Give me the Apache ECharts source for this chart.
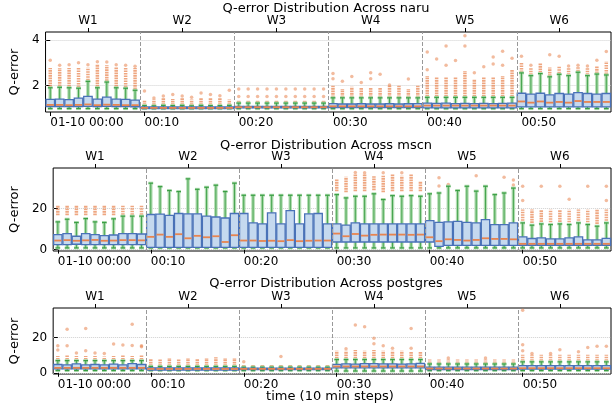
<!DOCTYPE html>
<html>
<head>
<meta charset="utf-8">
<script src="https://cdn.jsdelivr.net/npm/echarts@6/dist/echarts.min.js"></script>
<style>
html, body { margin: 0; padding: 0; background: #fff; }
#chart { width: 616px; height: 406px; }
</style>
</head>
<body>
<div id="chart"></div>
<script>
// axis ticks
const timeTicks = [0, 10, 20, 30, 40, 50]
const timeLabels = ['01-10 00:00', '00:10', '00:20', '00:30', '00:40', '00:50']
const workloadTicks = [4, 14, 24, 34, 44, 54]
const workloads = ['W1', 'W2', 'W3', 'W4', 'W5', 'W6']
const boundaries = [9.5, 19.5, 29.5, 39.5, 49.5]

// naru: [low whisker, q1, median, q3, high whisker] for each step
const naruBoxes = [
  [1.0, 1.09, 1.16, 1.40, 1.91], [1.0, 1.09, 1.16, 1.41, 1.93], [1.0, 1.09, 1.15, 1.39, 1.91], [1.0, 1.09, 1.16, 1.46, 1.89], [1.0, 1.10, 1.18, 1.53, 2.19],
  [1.0, 1.09, 1.15, 1.41, 1.91], [1.0, 1.10, 1.17, 1.50, 2.16], [1.0, 1.09, 1.16, 1.41, 1.91], [1.0, 1.09, 1.15, 1.40, 1.89], [1.0, 1.08, 1.15, 1.37, 1.80],
  [1.0, 1.0, 1.03, 1.07, 1.13], [1.0, 1.0, 1.03, 1.07, 1.12], [1.0, 1.0, 1.03, 1.07, 1.14], [1.0, 1.0, 1.03, 1.07, 1.13], [1.0, 1.0, 1.03, 1.07, 1.14],
  [1.0, 1.0, 1.03, 1.07, 1.12], [1.0, 1.0, 1.03, 1.07, 1.14], [1.0, 1.0, 1.03, 1.07, 1.13], [1.0, 1.0, 1.03, 1.07, 1.13], [1.0, 1.0, 1.03, 1.07, 1.14],
  [1.0, 1.03, 1.06, 1.10, 1.24], [1.0, 1.03, 1.06, 1.10, 1.24], [1.0, 1.03, 1.06, 1.10, 1.24], [1.0, 1.03, 1.06, 1.10, 1.24], [1.0, 1.03, 1.06, 1.10, 1.24],
  [1.0, 1.03, 1.06, 1.10, 1.24], [1.0, 1.03, 1.06, 1.10, 1.24], [1.0, 1.03, 1.06, 1.10, 1.24], [1.0, 1.03, 1.06, 1.10, 1.24], [1.0, 1.03, 1.06, 1.10, 1.24],
  [1.0, 1.04, 1.10, 1.22, 1.47], [1.0, 1.04, 1.10, 1.20, 1.47], [1.0, 1.04, 1.10, 1.20, 1.47], [1.0, 1.04, 1.10, 1.21, 1.47], [1.0, 1.04, 1.10, 1.20, 1.47],
  [1.0, 1.04, 1.10, 1.20, 1.47], [1.0, 1.04, 1.10, 1.21, 1.47], [1.0, 1.04, 1.10, 1.20, 1.47], [1.0, 1.04, 1.10, 1.21, 1.47], [1.0, 1.04, 1.10, 1.22, 1.47],
  [1.0, 1.03, 1.13, 1.24, 1.49], [1.0, 1.03, 1.13, 1.23, 1.49], [1.0, 1.03, 1.13, 1.24, 1.49], [1.0, 1.03, 1.13, 1.22, 1.49], [1.0, 1.03, 1.13, 1.23, 1.49],
  [1.0, 1.03, 1.13, 1.22, 1.49], [1.0, 1.03, 1.13, 1.23, 1.49], [1.0, 1.03, 1.13, 1.22, 1.49], [1.0, 1.03, 1.13, 1.23, 1.49], [1.0, 1.03, 1.13, 1.24, 1.49],
  [1.0, 1.07, 1.31, 1.67, 2.56], [1.0, 1.07, 1.26, 1.63, 2.44], [1.0, 1.07, 1.31, 1.67, 2.53], [1.0, 1.07, 1.26, 1.60, 2.39], [1.0, 1.07, 1.29, 1.66, 2.50],
  [1.0, 1.07, 1.26, 1.63, 2.44], [1.0, 1.07, 1.33, 1.70, 2.59], [1.0, 1.07, 1.29, 1.66, 2.44], [1.0, 1.07, 1.29, 1.63, 2.51], [1.0, 1.07, 1.29, 1.66, 2.47]
]
// dense outlier columns [from, to]
const naruFliers = [
  [1.96, 2.78], [1.98, 2.78], [1.96, 2.78], [1.94, 2.80], [2.24, 2.80], [1.96, 2.95], [2.21, 2.90], [1.96, 2.80], [1.94, 2.78], [1.85, 2.78],
  [1.16, 1.38], [1.16, 1.40], [1.16, 1.45], [1.16, 1.42], [1.16, 1.45], [1.16, 1.40], [1.16, 1.45], [1.16, 1.45], [1.16, 1.45], [1.16, 1.40],
  [1.27, 1.35], [1.27, 1.35], [1.27, 1.35], [1.27, 1.35], [1.27, 1.35], [1.27, 1.35], [1.27, 1.35], [1.27, 1.35], [1.27, 1.35], [1.27, 1.35],
  [1.50, 2.00], [1.50, 1.86], [1.50, 1.95], [1.50, 1.93], [1.50, 1.93], [1.50, 1.90], [1.50, 2.00], [1.50, 2.00], [1.50, 1.86], [1.50, 2.00],
  [1.52, 2.43], [1.52, 2.36], [1.52, 2.36], [1.52, 2.36], [1.52, 2.64], [1.52, 2.29], [1.52, 2.36], [1.52, 2.36], [1.52, 2.43], [1.52, 2.71],
  [2.60, 3.00], [2.48, 2.80], [2.57, 3.00], [2.43, 2.80], [2.54, 2.85], [2.48, 2.80], [2.63, 2.85], [2.48, 2.80], [2.55, 2.85], [2.51, 3.07]
]
// single outliers [step, value]
const naruOutliers = [
  [0, 3.11], [1, 2.89], [2, 2.92], [3, 3.0], [4, 2.92], [5, 3.05], [6, 3.04], [7, 2.92], [8, 2.90], [9, 2.85],
  [10, 1.77], [11, 1.46], [12, 1.55], [13, 1.62], [14, 1.55], [15, 1.50], [16, 1.68], [17, 1.62], [18, 1.56], [19, 1.80],
  [20, 1.53], [21, 1.53], [22, 1.53], [23, 1.53], [24, 1.53], [25, 1.53], [26, 1.53], [27, 1.53], [28, 1.53], [29, 1.53],
  [20, 1.86], [21, 1.86], [22, 1.86], [23, 1.86], [24, 1.86], [25, 1.86], [26, 1.86], [27, 1.86], [28, 1.86], [29, 1.86],
  [30, 2.53], [30, 2.30], [31, 2.19], [32, 2.40], [33, 2.14], [34, 2.57], [34, 2.30], [35, 2.50], [36, 2.03], [38, 2.29],
  [40, 3.47], [40, 2.70], [41, 3.17], [42, 3.74], [42, 2.90], [43, 3.10], [44, 4.19], [44, 3.74], [45, 2.57], [46, 2.83],
  [47, 3.26], [47, 2.95], [48, 3.51], [48, 2.90], [49, 3.20],
  [50, 3.29], [51, 2.89], [53, 3.36], [54, 3.29], [55, 2.86], [56, 2.89], [57, 2.86], [58, 3.11], [59, 3.50]
]

// mscn
const mscnBoxes = [
  [0.8, 2.4, 4.4, 7.3, 13.5], [0.8, 2.4, 4.6, 7.8, 14.8], [0.8, 2.6, 4.3, 6.5, 13.2], [0.8, 2.4, 4.5, 7.8, 15.1], [0.8, 2.4, 4.7, 7.3, 13.5],
  [0.8, 2.4, 4.3, 6.8, 13.2], [0.8, 2.4, 4.4, 7.1, 15.0], [0.8, 2.4, 4.6, 7.8, 16.3], [0.8, 2.4, 4.6, 7.8, 16.3], [0.8, 2.4, 4.5, 7.6, 16.3],
  [0.8, 1.1, 6.2, 17.1, 32.4], [0.8, 1.1, 7.3, 17.3, 30.7], [0.8, 1.1, 6.2, 16.7, 28.8], [0.8, 1.1, 7.5, 17.6, 28.3], [0.8, 1.1, 5.5, 17.4, 34.5],
  [0.8, 1.1, 6.7, 17.4, 29.4], [0.8, 1.1, 6.0, 16.3, 30.4], [0.8, 1.1, 6.5, 15.9, 31.4], [0.8, 1.1, 3.7, 15.4, 28.3], [0.8, 1.1, 7.0, 17.6, 32.4],
  [0.8, 1.1, 4.4, 17.6, 26.5], [0.8, 1.1, 4.4, 13.0, 26.5], [0.8, 1.1, 4.2, 12.5, 26.5], [0.8, 1.1, 4.3, 17.9, 26.5], [0.8, 1.1, 4.1, 12.5, 26.5],
  [0.8, 1.1, 4.6, 19.0, 26.5], [0.8, 1.1, 4.1, 12.5, 26.5], [0.8, 1.1, 4.3, 17.4, 26.5], [0.8, 1.1, 4.4, 17.6, 26.5], [0.8, 1.1, 4.4, 12.5, 26.5],
  [0.8, 3.7, 7.8, 12.5, 26.8], [0.8, 3.7, 6.5, 11.9, 25.2], [0.8, 3.7, 7.6, 13.0, 26.0], [0.8, 3.7, 6.8, 12.5, 26.0], [0.8, 3.7, 7.2, 12.5, 27.2],
  [0.8, 3.7, 7.3, 12.5, 24.4], [0.8, 3.7, 7.3, 12.5, 26.3], [0.8, 3.7, 7.3, 12.5, 26.0], [0.8, 3.7, 7.2, 12.5, 26.3], [0.8, 3.7, 7.3, 12.5, 26.0],
  [0.8, 3.7, 6.0, 14.1, 27.2], [0.8, 1.6, 4.1, 13.3, 27.6], [0.8, 2.0, 5.0, 13.5, 30.9], [0.8, 2.0, 4.7, 13.8, 28.8], [0.8, 2.0, 4.4, 13.3, 30.9],
  [0.8, 2.0, 4.7, 13.0, 28.5], [0.8, 2.0, 5.5, 14.6, 30.9], [0.8, 2.0, 5.2, 12.2, 26.8], [0.8, 2.0, 5.2, 12.2, 27.6], [0.8, 2.0, 5.0, 13.0, 30.0],
  [0.8, 2.1, 2.8, 6.2, 13.0], [0.8, 2.1, 2.8, 5.4, 11.9], [0.8, 2.1, 2.8, 5.7, 12.5], [0.8, 2.1, 2.8, 5.2, 12.2], [0.8, 2.1, 2.8, 5.2, 12.5],
  [0.8, 2.1, 2.8, 5.7, 12.2], [0.8, 2.1, 2.8, 6.2, 13.0], [0.8, 2.1, 2.8, 4.7, 12.2], [0.8, 2.1, 2.8, 4.7, 11.4], [0.8, 2.1, 2.8, 5.5, 13.0]
]
const mscnFliers = [
  [16.8, 21.8], [16.8, 21.8], [16.8, 21.8], [16.8, 21.8], [16.8, 21.8], [16.8, 21.8], [16.8, 21.8], [17.0, 21.8], [17.0, 21.8], [17.0, 21.8],
  null, null, null, null, null, null, null, null, null, null,
  null, null, null, null, null, null, null, null, null, null,
  [28.5, 34.5], [28.0, 35.5], [28.5, 36.6], [28.5, 37.0], [29.0, 35.8], [28.0, 36.0], [28.5, 36.8], [28.5, 36.0], [28.5, 36.8], [28.5, 33.5],
  null, null, null, null, null, null, null, null, null, null,
  [14.0, 19.5], [13.0, 19.5], [13.5, 19.5], [13.3, 19.5], [13.5, 19.5], [13.3, 19.5], [14.0, 19.5], [13.3, 19.5], [12.5, 19.5], [14.0, 19.5]
]
const mscnOutliers = [
  [32, 37.6], [33, 37.5], [35, 37.5], [37, 37.5],
  [41, 35.0], [41, 31.0], [42, 31.7], [45, 36.0], [48, 35.3], [49, 34.0], [49, 31.5],
  [50, 30.9], [50, 24.0], [52, 30.9], [54, 30.9], [55, 24.5], [57, 30.9], [59, 30.9], [59, 24.0]
]

// postgres
const postgresBoxes = [
  [1.3, 2.2, 2.8, 4.7, 6.9], [1.3, 2.2, 2.8, 4.5, 6.9], [1.3, 2.2, 2.8, 5.0, 6.9], [1.3, 2.2, 2.8, 4.5, 6.9], [1.3, 2.2, 2.8, 4.7, 6.9],
  [1.3, 2.2, 2.8, 4.5, 6.9], [1.3, 2.2, 2.8, 4.9, 6.9], [1.3, 2.2, 2.8, 4.5, 6.9], [1.3, 2.2, 2.8, 5.2, 6.9], [1.3, 2.2, 2.8, 4.7, 6.9],
  [1.3, 1.5, 2.2, 2.8, 3.6], [1.3, 1.5, 2.2, 2.8, 3.6], [1.3, 1.5, 2.2, 2.8, 3.6], [1.3, 1.5, 2.2, 2.8, 3.6], [1.3, 1.5, 2.2, 2.8, 3.6],
  [1.3, 1.5, 2.2, 2.8, 3.6], [1.3, 1.5, 2.2, 2.8, 3.6], [1.3, 1.5, 2.2, 2.8, 3.6], [1.3, 1.5, 2.2, 2.8, 3.6], [1.3, 1.5, 2.2, 2.8, 3.6],
  [1.3, 1.8, 2.2, 2.6, 3.2], [1.3, 1.8, 2.2, 2.6, 3.2], [1.3, 1.8, 2.2, 2.6, 3.2], [1.3, 1.8, 2.2, 2.6, 3.2], [1.3, 1.8, 2.2, 2.6, 3.2],
  [1.3, 1.8, 2.2, 2.6, 3.2], [1.3, 1.8, 2.2, 2.6, 3.2], [1.3, 1.8, 2.2, 2.6, 3.2], [1.3, 1.8, 2.2, 2.6, 3.2], [1.3, 1.8, 2.2, 2.6, 3.2],
  [1.0, 2.8, 3.6, 4.8, 7.5], [1.0, 2.8, 3.6, 5.0, 7.5], [1.0, 2.8, 3.6, 4.9, 7.5], [1.0, 2.8, 3.6, 5.2, 7.5], [1.0, 2.8, 3.6, 5.2, 7.5],
  [1.0, 2.8, 3.6, 5.0, 7.5], [1.0, 2.8, 3.6, 5.0, 7.5], [1.0, 2.8, 3.6, 4.9, 7.5], [1.0, 2.8, 3.6, 5.0, 7.5], [1.0, 2.8, 3.6, 5.3, 7.5],
  [1.3, 1.8, 2.4, 3.2, 5.0], [1.3, 1.8, 2.4, 3.2, 5.0], [1.3, 1.8, 2.4, 3.2, 5.0], [1.3, 1.8, 2.4, 3.2, 5.0], [1.3, 1.8, 2.4, 3.2, 5.0],
  [1.3, 1.8, 2.4, 3.2, 5.0], [1.3, 1.8, 2.4, 3.2, 5.0], [1.3, 1.8, 2.4, 3.2, 5.0], [1.3, 1.8, 2.4, 3.2, 5.0], [1.3, 1.8, 2.4, 3.2, 5.0],
  [1.3, 2.1, 2.6, 4.1, 6.2], [1.3, 2.1, 2.6, 4.1, 6.2], [1.3, 2.1, 2.6, 4.1, 6.2], [1.3, 2.1, 2.6, 4.1, 6.2], [1.3, 2.1, 2.6, 4.1, 6.2],
  [1.3, 2.1, 2.6, 4.1, 6.2], [1.3, 2.1, 2.6, 4.1, 6.2], [1.3, 2.1, 2.6, 4.1, 6.2], [1.3, 2.1, 2.6, 4.1, 6.2], [1.3, 2.1, 2.6, 4.1, 6.2]
]
const postgresFliers = [
  [7.5, 9.5], [7.5, 9.8], [7.5, 9.5], [7.5, 9.5], [7.5, 9.5], [7.5, 9.2], [7.5, 9.5], [7.5, 9.8], [7.5, 9.5], [7.5, 10.0],
  [3.9, 7.9], [3.9, 7.5], [3.9, 8.4], [3.9, 7.5], [3.9, 8.4], [3.9, 8.0], [3.9, 8.4], [3.9, 8.8], [3.9, 8.4], [3.9, 8.4],
  [3.5, 5.0], [3.5, 5.0], [3.5, 5.0], [3.5, 5.0], [3.5, 5.0], [3.5, 5.0], [3.5, 5.0], [3.5, 5.0], [3.5, 5.0], [3.5, 5.0],
  [8.0, 12.5], [8.0, 12.5], [8.0, 13.0], [8.0, 12.5], [8.0, 13.0], [8.0, 12.5], [8.0, 12.5], [8.0, 12.5], [8.0, 12.0], [8.0, 12.0],
  [5.5, 7.5], [5.5, 7.5], [5.5, 7.5], [5.5, 7.5], [5.5, 7.5], [5.5, 7.5], [5.5, 7.5], [5.5, 7.5], [5.5, 7.5], [5.5, 7.5],
  [6.8, 10.3], [6.8, 10.3], [6.8, 10.3], [6.8, 10.3], [6.8, 10.3], [6.8, 10.3], [6.8, 10.3], [6.8, 10.3], [6.8, 10.3], [6.8, 10.3]
]
const postgresOutliers = [
  [0, 15.3], [0, 13.0], [1, 24.7], [1, 15.3], [2, 11.2], [3, 25.2], [3, 12.5], [4, 11.2], [5, 11.0], [6, 16.3],
  [7, 15.8], [8, 27.5], [8, 15.5], [9, 15.3], [9, 14.8],
  [20, 6.2], [24, 9.3],
  [31, 13.6], [32, 27.1], [33, 26.2], [34, 19.6], [34, 16.5], [35, 15.3], [36, 14.0], [38, 25.2], [38, 14.0],
  [42, 8.4], [46, 8.4],
  [50, 35.5], [50, 15.9], [50, 12.5], [51, 11.0], [53, 11.0], [54, 13.1], [56, 12.0], [57, 14.4], [58, 15.0], [59, 15.0]
]

const panels = [
  { name: 'naru', boxes: naruBoxes, fliers: naruFliers, outliers: naruOutliers,
    grid: { left: 40, top: 32, height: 80 }, yMin: 0.85, yMax: 4.35, yTicks: [2, 4], nameGap: 11, titleY: 9 },
  { name: 'mscn', boxes: mscnBoxes, fliers: mscnFliers, outliers: mscnOutliers,
    grid: { left: 48, top: 168, height: 83 }, yMin: -0.7, yMax: 39.8, yTicks: [0, 20], nameGap: 19, titleY: 146 },
  { name: 'postgres', boxes: postgresBoxes, fliers: postgresFliers, outliers: postgresOutliers,
    grid: { left: 48, top: 308, height: 66 }, yMin: -0.7, yMax: 36.8, yTicks: [0, 20], nameGap: 19, titleY: 284 }
]

const FONT = 'DejaVu Sans'
const BLUE = '#4a72b8', FILL = '#c5d9ef', ORANGE = '#e8844f'
const GREEN = '#3a9e44', GREEN_LIGHT = '#b0dcb0'

function renderBox(params, api) {
  const i = api.value(0)
  const w = api.size([1, 0])[0]
  const bw = w * 0.9, cw = w * 0.5
  const x = api.coord([i, 0])[0]
  const py = k => api.coord([i, api.value(k)])[1]
  const lo = py(1), q1 = py(2), med = py(3), q3 = py(4), hi = py(5)
  const children = []
  const fLo = api.value(6), fHi = api.value(7)
  if (fHi > fLo) {
    children.push({ type: 'line', shape: { x1: x, y1: py(6), x2: x, y2: py(7) },
      style: { stroke: ORANGE, lineWidth: 3.5, lineDash: [1.6, 0.9], opacity: 0.72 } })
  }
  const seg = (x1, y1, x2, y2, stroke, lw) => ({ type: 'line', shape: { x1, y1, x2, y2 }, style: { stroke, lineWidth: lw } })
  children.push(seg(x, q3, x, hi, GREEN_LIGHT, 3.5), seg(x, q1, x, lo, GREEN_LIGHT, 3.5))
  children.push(seg(x - cw / 2, hi, x + cw / 2, hi, GREEN_LIGHT, 3), seg(x - cw / 2, lo, x + cw / 2, lo, GREEN_LIGHT, 3))
  children.push(seg(x, q3, x, hi, GREEN, 0.9), seg(x, q1, x, lo, GREEN, 0.9))
  children.push(seg(x - cw / 2, hi, x + cw / 2, hi, GREEN, 1.2), seg(x - cw / 2, lo, x + cw / 2, lo, GREEN, 1.2))
  children.push({ type: 'rect', shape: { x: x - bw / 2, y: q3, width: bw, height: q1 - q3 },
    style: { fill: FILL, stroke: BLUE, lineWidth: 1.3 } })
  children.push(seg(x - bw / 2 + 0.6, med, x + bw / 2 - 0.6, med, ORANGE, 1.8))
  return { type: 'group', children }
}

const grids = [], xAxes = [], yAxes = [], series = [], graphics = []
panels.forEach((p, k) => {
  grids.push({ left: p.grid.left, right: 5, top: p.grid.top, height: p.grid.height,
    show: true, borderColor: '#000', borderWidth: 1, backgroundColor: 'transparent' })
  xAxes.push({
    type: 'value', gridIndex: k, position: 'bottom', min: -0.5, max: 59.5,
    axisLine: { show: false }, splitLine: { show: false },
    axisTick: { customValues: timeTicks, length: 4, lineStyle: { color: '#000' } },
    axisLabel: { customValues: timeTicks, formatter: v => timeLabels[timeTicks.indexOf(Math.round(v))],
      align: 'left', margin: 5, color: '#000', fontFamily: FONT, fontSize: 12 }
  })
  xAxes.push({
    type: 'value', gridIndex: k, position: 'top', min: -0.5, max: 59.5,
    axisLine: { show: false }, splitLine: { show: false },
    axisTick: { customValues: workloadTicks, length: 4, lineStyle: { color: '#000' } },
    axisLabel: { customValues: workloadTicks, formatter: v => workloads[workloadTicks.indexOf(Math.round(v))],
      margin: 5, color: '#000', fontFamily: FONT, fontSize: 12 }
  })
  yAxes.push({
    type: 'value', gridIndex: k, min: p.yMin, max: p.yMax,
    name: 'Q-error', nameLocation: 'middle', nameGap: p.nameGap,
    nameTextStyle: { color: '#000', fontFamily: FONT, fontSize: 13 },
    axisLine: { show: false },
    axisTick: { customValues: p.yTicks, length: 4, lineStyle: { color: '#000' } },
    axisLabel: { customValues: p.yTicks, margin: 6, color: '#000', fontFamily: FONT, fontSize: 12 },
    splitLine: { show: true, lineStyle: { color: '#d0d0d0', type: 'dotted', width: 1 } }
  })
  const data = p.boxes.map((b, i) => [i, ...b, ...(p.fliers[i] || [0, 0])])
  series.push({
    type: 'custom', xAxisIndex: k * 2, yAxisIndex: k, data, renderItem: renderBox,
    encode: { x: 0, y: [1, 2, 3, 4, 5] }, silent: true, z: 3,
    markLine: { silent: true, symbol: ['none', 'none'], label: { show: false },
      lineStyle: { color: '#999', type: 'dashed', width: 1 },
      data: boundaries.map(b => ({ xAxis: b })) }
  })
  series.push({
    type: 'scatter', xAxisIndex: k * 2, yAxisIndex: k, data: p.outliers, symbol: 'circle', symbolSize: 3.5,
    itemStyle: { color: ORANGE, opacity: 0.55 }, silent: true, z: 2
  })
  graphics.push({ type: 'text', x: 326, y: p.titleY, style: { text: 'Q-error Distribution Across ' + p.name,
    font: '13px "DejaVu Sans"', fill: '#000', textAlign: 'center', textVerticalAlign: 'middle' } })
})
graphics.push({ type: 'text', x: 330, y: 397, style: { text: 'time (10 min steps)',
  font: '13px "DejaVu Sans"', fill: '#000', textAlign: 'center', textVerticalAlign: 'middle' } })

const chart = echarts.init(document.getElementById('chart'), null, { renderer: 'canvas' })
chart.setOption({
  animation: false,
  backgroundColor: '#fff',
  grid: grids, xAxis: xAxes, yAxis: yAxes, series, graphic: graphics
})
</script>
</body>
</html>
